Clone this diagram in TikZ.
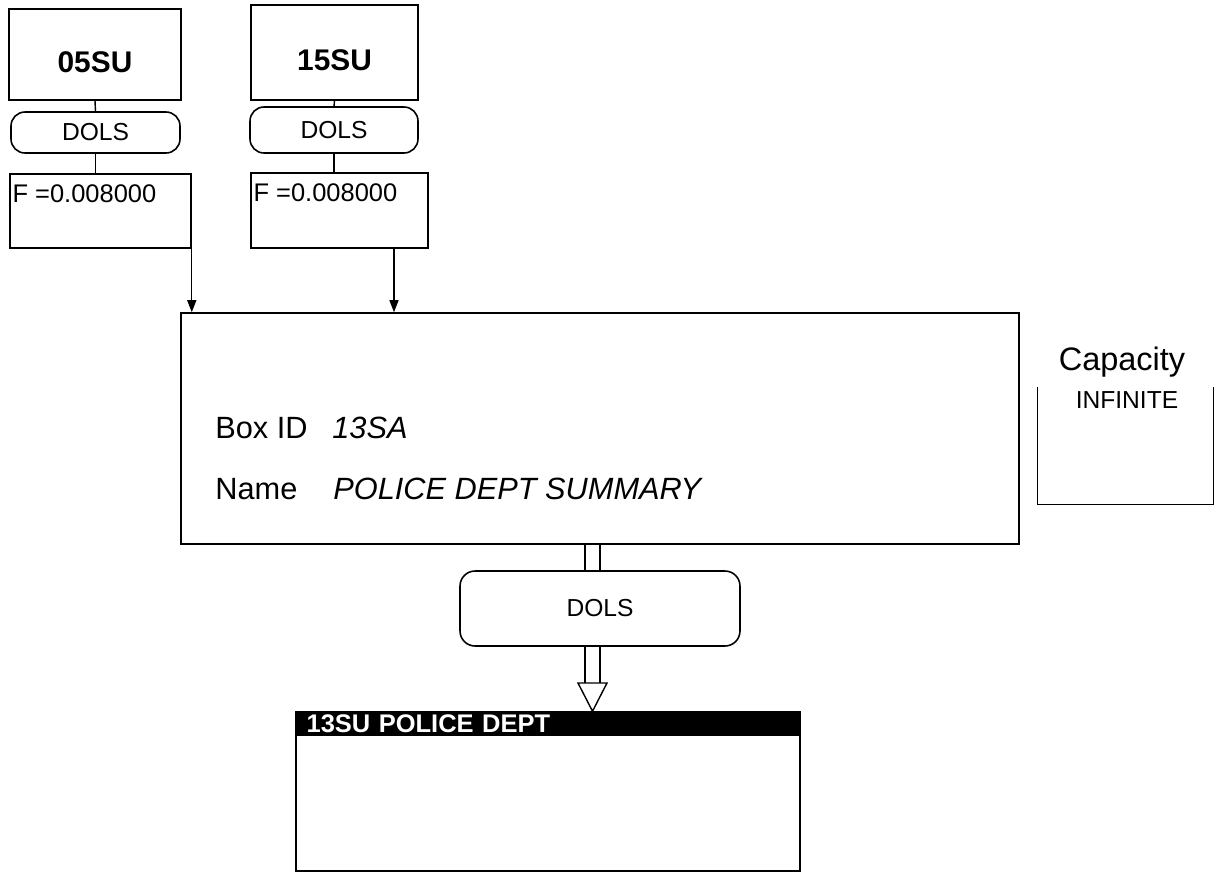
\documentclass[tikz,border=0pt]{standalone}
\usepackage{fontspec}
\setmainfont{Liberation Sans}
\usetikzlibrary{positioning, arrows.meta}

\tikzset{
    unitbox/.style={draw, line width=0.9pt, fill=white, inner sep=0pt},
    unittext/.style={font=\fontsize{17}{20}\selectfont\bfseries, yshift=-0.16cm},
    dolsbox/.style={draw, line width=0.9pt, fill=white, rounded corners=0.28cm,
                    font=\fontsize{14}{17}\selectfont, inner sep=0pt},
    factor/.style={anchor=north west, font=\fontsize{14.5}{17}\selectfont,
                   inner xsep=0.06cm, inner ysep=0.22cm},
    infotext/.style={anchor=base west, inner sep=0pt, font=\fontsize{17.5}{21}\selectfont},
    feed/.style={line width=0.8pt, -{Triangle[length=0.24cm, width=0.18cm]}},
    pipeline/.style={line width=0.7pt, double, double distance=0.275cm},
}

\begin{document}
\begin{tikzpicture}[x=0.02cm, y=-0.02cm]
    \useasboundingbox (0,0) rectangle (1217,873);

    % source units
    \node[unitbox, minimum width=3.44cm, minimum height=1.82cm,
          label={[unittext]center:05SU}] (su05) at (95,54.5) {};
    \node[dolsbox, minimum width=3.38cm, minimum height=0.82cm] (dols05) at (95.5,132.5) {DOLS};
    \node[unitbox, minimum width=3.62cm, minimum height=1.48cm,
          label={[factor]north west:F =0.008000}] (f05) at (100.5,211) {};

    \node[unitbox, minimum width=3.34cm, minimum height=1.9cm,
          label={[unittext]center:15SU}] (su15) at (334.5,52.5) {};
    \node[dolsbox, minimum width=3.36cm, minimum height=0.92cm] (dols15) at (334,130) {DOLS};
    \node[unitbox, minimum width=3.54cm, minimum height=1.5cm,
          label={[factor]north west:F =0.008000}] (f15) at (339.5,210.5) {};

    % summary box
    \node[unitbox, minimum width=16.76cm, minimum height=4.62cm] (main) at (600,428.5) {};
    \node[infotext] (idlbl) at (215,438) {Box ID};
    \node[infotext] (idval) at (332,438) {\itshape 13SA};
    \node[infotext] (namelbl) at (215,499) {Name};
    \node[infotext] (nameval) at (333,499) {\itshape POLICE DEPT SUMMARY};

    % capacity
    \node[inner sep=0pt, anchor=base, font=\fontsize{18.5}{22}\selectfont] (caplbl) at (1122,370) {Capacity};
    \node[inner sep=0pt, minimum width=3.5cm, minimum height=2.34cm] (capbox) at (1125.5,445.5) {};
    \draw[line width=0.9pt] (capbox.north west) |- (capbox.south east) -- (capbox.north east);
    \node[inner sep=0pt, anchor=base, font=\fontsize{14}{17}\selectfont] (capval) at (1127,408) {INFINITE};

    % flows into the summary
    \draw[line width=0.8pt] (su05.south) -- (dols05.north);
    \draw[line width=0.8pt] (dols05.south) -- (dols05.south |- f05.north);
    \draw[feed] (f05.south east) -- (f05.south east |- main.north);
    \draw[line width=0.8pt] (su15.south) -- (dols15.north);
    \draw[line width=0.8pt] (dols15.south) -- (dols15.south |- f15.north);
    \coordinate (f15out) at (394,248);
    \draw[feed] (f15out) -- (f15out |- main.north);

    % output
    \node[dolsbox, minimum width=5.6cm, minimum height=1.5cm, rounded corners=0.3cm] (dols13) at (600,608.5) {DOLS};
    \node[unitbox, minimum width=10.08cm, minimum height=3.18cm] (su13) at (548,791.5) {};
    \node[anchor=north west, fill=black, text=white, minimum height=0.48cm,
          text width=9.64cm, inner xsep=0.22cm, inner ysep=0pt, align=left,
          font=\fontsize{14.5}{16}\selectfont\bfseries] (su13head) at (su13.north west) {13SU POLICE DEPT};

    \coordinate (pipe) at (592.5,0);
    \coordinate (tritop) at (592.5,683);
    \coordinate (tip) at (pipe |- su13.north);
    \draw[pipeline] (pipe |- main.south) -- (pipe |- dols13.north);
    \draw[pipeline] (pipe |- dols13.south) -- (tritop);
    \draw[line width=0.8pt, fill=white] ([xshift=-0.29cm]tritop) -- ([xshift=0.29cm]tritop) -- (tip) -- cycle;
\end{tikzpicture}
\end{document}
